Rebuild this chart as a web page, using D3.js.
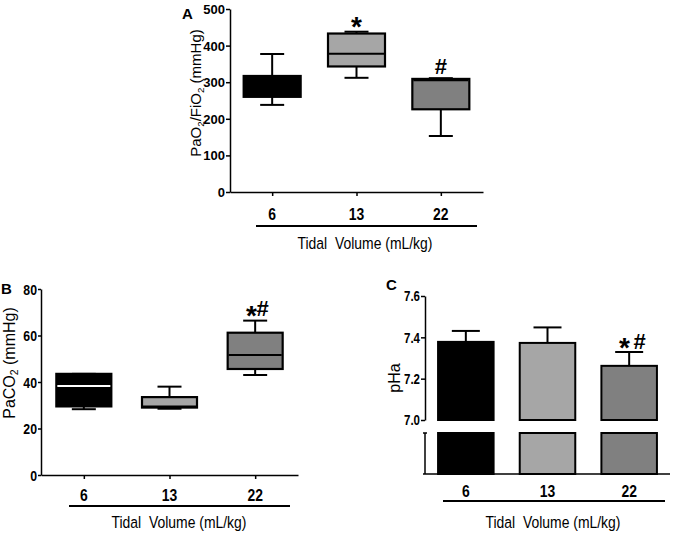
<!DOCTYPE html>
<html>
<head>
<meta charset="utf-8">
<script src="https://cdn.jsdelivr.net/npm/d3@7"></script>
<style>
  html, body { margin: 0; padding: 0; background: #fff; }
  svg { display: block; }
  text { font-family: "Liberation Sans", Arial, sans-serif; }
</style>
</head>
<body>
<svg id="chart" width="673" height="537"></svg>
<script>
// ---------- data ----------
const categories = ["6", "13", "22"];

// Panel A: PaO2/FiO2 box plots (min, q1, median, q3, max)
const aMin    = [238, 312, 153];
const aQ1     = [260, 343, 226];
const aMedian = [290, 378, 305];
const aQ3     = [317, 433, 309];
const aMax    = [377, 438, 311];
const aTicks  = [0, 100, 200, 300, 400, 500];
const aMarks  = ["", "*", "#"];

// Panel B: PaCO2 box plots
const bMin    = [28.3, 28.5, 43];
const bQ1     = [29.5, 29, 45.6];
const bMedian = [38.3, 29.5, 51.6];
const bQ3     = [43.5, 33.5, 61.2];
const bMax    = [43.5, 38, 66.4];
const bTicks  = [0, 20, 40, 60, 80];
const bMarks  = ["", "", "*#"];

// Panel C: pHa mean + SD
const cMean  = [7.378, 7.373, 7.262];
const cSD    = [0.053, 0.075, 0.067];
const cTicks = [7.0, 7.2, 7.4, 7.6];
const cMarks = ["", "", "* #"];

const xTitle = "Tidal  Volume (mL/kg)";

// ---------- styles ----------
const fills = ["#000000", "#a6a6a6", "#808080"];
const NARROW = 0.82;
const svg = d3.select("#chart");

function nText(g, x, y, str, size, weight, anchor) {
  return g.append("text")
    .attr("transform", `translate(${x},${y}) scale(${NARROW},1)`)
    .attr("text-anchor", anchor || "middle")
    .attr("font-size", size).attr("font-weight", weight || "normal")
    .style("white-space", "pre").text(str);
}

function drawMark(g, cx, cy, str) {
  if (!str) return;
  const parts = str.split("").map(ch => {
    if (ch === "*") return { ch, size: 28, w: 0.39 * 28, base: cy + 16 };
    if (ch === "#") return { ch, size: 22, w: 0.52 * 22, base: cy + 7.5 };
    return { ch, size: 18, w: 4, base: cy };
  });
  const total = d3.sum(parts, p => p.w);
  let xx = cx - total / 2;
  parts.forEach(p => {
    if (p.ch.trim()) {
      g.append("text").attr("x", xx + p.w / 2).attr("y", p.base).attr("text-anchor", "middle")
        .attr("font-size", p.size).attr("font-weight", "bold").text(p.ch);
    }
    xx += p.w;
  });
}

function styleYAxis(ya, ts, tp, size, weight, narrow) {
  ya.attr("font-family", null);
  ya.select(".domain").attr("stroke", "#000").attr("stroke-width", 1.5);
  ya.selectAll(".tick line").attr("stroke-width", 1.5);
  ya.selectAll(".tick text")
    .attr("x", 0).attr("dy", "0.35em")
    .attr("transform", `translate(${-(ts + tp)},0) scale(${narrow ? NARROW : 1},1)`)
    .attr("font-size", size).attr("font-weight", weight).attr("fill", "#000");
}

function boxPanel(cfg) {
  const g = svg.append("g");
  const x = d3.scalePoint().domain(categories).range([cfg.x0, cfg.x1]).padding(0.5);
  const y = d3.scaleLinear().domain(cfg.domain).range([cfg.yBottom, cfg.yTop]);

  const ya = g.append("g").attr("transform", `translate(${cfg.x0},0)`)
    .call(d3.axisLeft(y).tickValues(cfg.ticks).tickSize(cfg.tickSize).tickSizeOuter(0));
  styleYAxis(ya, cfg.tickSize, cfg.tickPad, cfg.tickFont, "bold", cfg.tickNarrow);

  const xa = g.append("g").attr("transform", `translate(0,${cfg.yBottom})`)
    .call(d3.axisBottom(x).tickSize(4).tickSizeOuter(0).tickFormat(""));
  xa.select(".domain").attr("stroke-width", 1.5);
  xa.selectAll(".tick line").attr("stroke-width", 1.5);

  const data = categories.map((c, i) => ({
    c, i, min: cfg.min[i], q1: cfg.q1[i], med: cfg.med[i], q3: cfg.q3[i], max: cfg.max[i]
  }));
  const bw = cfg.boxW;
  const cap = 24;
  const box = g.selectAll(".box").data(data).join("g");
  const vline = (y1, y2) => box.append("line").attr("x1", d => x(d.c)).attr("x2", d => x(d.c))
    .attr("y1", y1).attr("y2", y2).attr("stroke", "#000").attr("stroke-width", 2);
  const hline = (yy) => box.append("line").attr("x1", d => x(d.c) - cap / 2).attr("x2", d => x(d.c) + cap / 2)
    .attr("y1", yy).attr("y2", yy).attr("stroke", "#000").attr("stroke-width", 2);
  vline(d => y(d.max), d => y(d.q3));
  vline(d => y(d.q1), d => y(d.min));
  hline(d => y(d.max));
  hline(d => y(d.min));
  box.append("rect").attr("x", d => x(d.c) - bw / 2).attr("width", bw)
    .attr("y", d => y(d.q3)).attr("height", d => y(d.q1) - y(d.q3))
    .attr("fill", d => fills[d.i]).attr("stroke", "#000").attr("stroke-width", 2.2);
  box.append("line").attr("x1", d => x(d.c) - bw / 2 + 1).attr("x2", d => x(d.c) + bw / 2 - 1)
    .attr("y1", d => y(d.med)).attr("y2", d => y(d.med))
    .attr("stroke", d => cfg.medColors[d.i]).attr("stroke-width", 2);

  data.forEach(d => drawMark(g, x(d.c) + cfg.markDx, y(d.max) - 12, cfg.marks[d.i]));

  categories.forEach(c => nText(g, x(c), cfg.catY, c, 17, "bold"));
  g.append("line").attr("x1", cfg.ul[0]).attr("x2", cfg.ul[1]).attr("y1", cfg.ulY).attr("y2", cfg.ulY)
    .attr("stroke", "#000").attr("stroke-width", 2);
  nText(g, cfg.titleX, cfg.titleY, xTitle, 17, "normal");

  const yl = g.append("text")
    .attr("transform", `translate(${cfg.ylX},${cfg.ylY}) rotate(-90)`)
    .attr("text-anchor", "middle").attr("font-size", cfg.ylFont);
  cfg.ylParts.forEach(p => {
    const t = yl.append("tspan").text(p.t);
    if (p.sub) t.attr("font-size", cfg.ylFont * 0.65).attr("dy", "0.3em");
    if (p.up) t.attr("dy", "-0.2em");
  });
  g.append("text").attr("x", cfg.letterX).attr("y", cfg.letterY)
    .attr("font-size", 15).attr("font-weight", "bold").text(cfg.letter);
}

boxPanel({
  x0: 230, x1: 483, yTop: 9, yBottom: 192, domain: [0, 500], ticks: aTicks,
  tickSize: 4, tickPad: 1, tickFont: 13, tickNarrow: false,
  min: aMin, q1: aQ1, med: aMedian, q3: aQ3, max: aMax, boxW: 57,
  medColors: ["#000", "#000", "#000"], marks: aMarks, markDx: 0,
  catY: 220, ul: [256, 477], ulY: 226, titleX: 365, titleY: 249,
  ylX: 201, ylY: 93, ylFont: 15,
  ylParts: [{t: "PaO"}, {t: "2", sub: true}, {t: "/FiO", up: true}, {t: "2", sub: true}, {t: " (mmHg)", up: true}],
  letter: "A", letterX: 182, letterY: 19
});

boxPanel({
  x0: 41, x1: 298, yTop: 289, yBottom: 475, domain: [0, 80], ticks: bTicks,
  tickSize: 3, tickPad: 1, tickFont: 15, tickNarrow: true,
  min: bMin, q1: bQ1, med: bMedian, q3: bQ3, max: bMax, boxW: 55,
  medColors: ["#fff", "#000", "#000"], marks: bMarks, markDx: 2,
  catY: 501, ul: [69, 290], ulY: 506, titleX: 179, titleY: 528,
  ylX: 15, ylY: 363, ylFont: 16,
  ylParts: [{t: "PaCO"}, {t: "2", sub: true}, {t: " (mmHg)", up: true}],
  letter: "B", letterX: 1, letterY: 294
});

// ---------- Panel C: broken-axis bar chart ----------
(function () {
  const g = svg.append("g");
  const x = d3.scaleBand().domain(categories).range([425, 670]).paddingInner(0.32).paddingOuter(0.16);
  const y = d3.scaleLinear().domain([7.0, 7.6]).range([420, 296]);
  const brkTop = 433, base = 474;

  const ya = g.append("g").attr("transform", "translate(425,0)")
    .call(d3.axisLeft(y).tickValues(cTicks).tickFormat(d3.format(".1f")).tickSize(4).tickSizeOuter(0));
  styleYAxis(ya, 4, 1, 14, "bold", true);

  g.append("line").attr("x1", 425).attr("x2", 425).attr("y1", brkTop).attr("y2", base).attr("stroke", "#000").attr("stroke-width", 1.5);
  g.append("line").attr("x1", 423).attr("x2", 427).attr("y1", brkTop).attr("y2", brkTop).attr("stroke", "#000").attr("stroke-width", 1.5);
  g.append("line").attr("x1", 423).attr("x2", 670).attr("y1", base).attr("y2", base).attr("stroke", "#000").attr("stroke-width", 1.5);

  const data = categories.map((c, i) => ({ c, i, m: cMean[i], sd: cSD[i] }));
  const bw = x.bandwidth();
  g.selectAll(".err").data(data).join("line")
    .attr("x1", d => x(d.c) + bw / 2).attr("x2", d => x(d.c) + bw / 2)
    .attr("y1", d => y(d.m)).attr("y2", d => y(d.m + d.sd)).attr("stroke", "#000").attr("stroke-width", 2);
  g.selectAll(".cap").data(data).join("line")
    .attr("x1", d => x(d.c) + bw / 2 - 14).attr("x2", d => x(d.c) + bw / 2 + 14)
    .attr("y1", d => y(d.m + d.sd)).attr("y2", d => y(d.m + d.sd)).attr("stroke", "#000").attr("stroke-width", 2);
  g.selectAll(".barU").data(data).join("rect")
    .attr("x", d => x(d.c)).attr("width", bw).attr("y", d => y(d.m)).attr("height", d => y(7.0) - y(d.m))
    .attr("fill", d => fills[d.i]).attr("stroke", "#000").attr("stroke-width", 2);
  g.selectAll(".barL").data(data).join("rect")
    .attr("x", d => x(d.c)).attr("width", bw).attr("y", brkTop).attr("height", base - brkTop)
    .attr("fill", d => fills[d.i]).attr("stroke", "#000").attr("stroke-width", 2);

  data.forEach(d => drawMark(g, x(d.c) + bw / 2 + 3, y(d.m + d.sd) - 11, cMarks[d.i]));

  categories.forEach(c => nText(g, x(c) + bw / 2, 497, c, 17, "bold"));
  g.append("line").attr("x1", 443).attr("x2", 665).attr("y1", 501).attr("y2", 501).attr("stroke", "#000").attr("stroke-width", 2);
  nText(g, 553, 528, xTitle, 17, "normal");
  g.append("text").attr("transform", "translate(400,378) rotate(-90)")
    .attr("text-anchor", "middle").attr("font-size", 16).text("pHa");
  g.append("text").attr("x", 386).attr("y", 290)
    .attr("font-size", 15).attr("font-weight", "bold").text("C");
})();
</script>
</body>
</html>
